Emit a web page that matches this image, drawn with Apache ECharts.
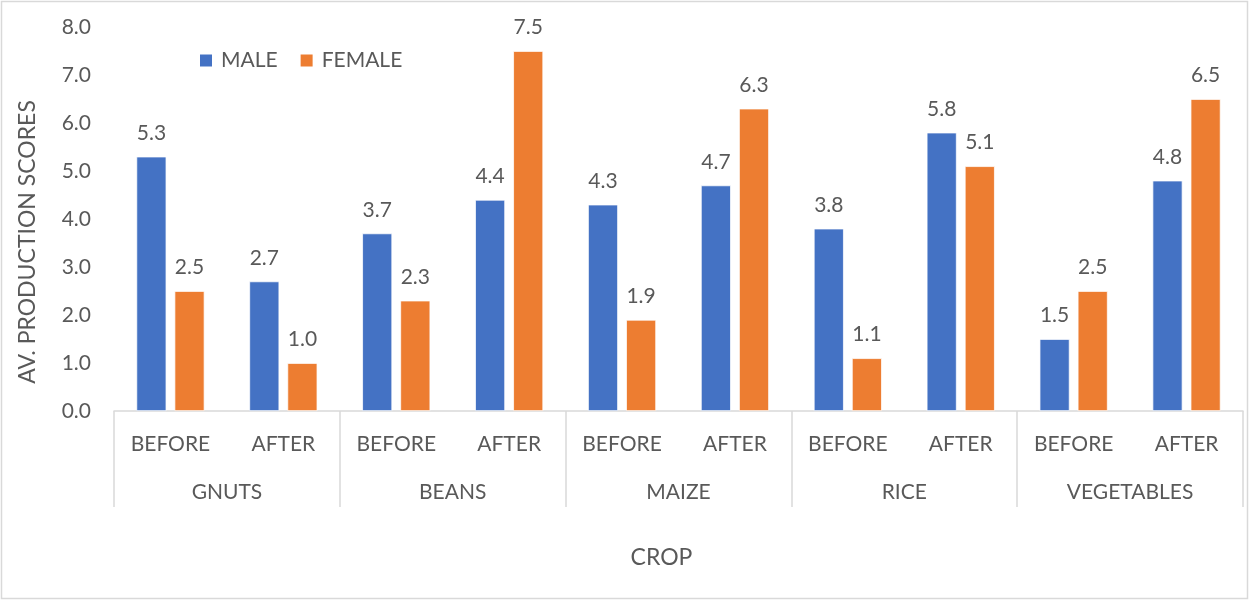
<!DOCTYPE html>
<html>
<head>
<meta charset="utf-8">
<script src="https://cdn.jsdelivr.net/npm/echarts@6/dist/echarts.min.js"></script>
<style>
  html, body { margin: 0; padding: 0; background: #ffffff; }
  #chart { width: 1250px; height: 601px; }
</style>
</head>
<body>
<div id="chart"></div>
<script>
// Average production scores by crop, before and after, split by gender
const crops = ['GNUTS', 'BEANS', 'MAIZE', 'RICE', 'VEGETABLES'];
const periods = ['BEFORE', 'AFTER'];
const periodLabels = ['BEFORE', 'AFTER', 'BEFORE', 'AFTER', 'BEFORE', 'AFTER', 'BEFORE', 'AFTER', 'BEFORE', 'AFTER'];
const maleScores = [5.3, 2.7, 3.7, 4.4, 4.3, 4.7, 3.8, 5.8, 1.5, 4.8];
const femaleScores = [2.5, 1.0, 2.3, 7.5, 1.9, 6.3, 1.1, 5.1, 2.5, 6.5];
const yTicks = [0, 1, 2, 3, 4, 5, 6, 7, 8];

const FONT = 'Lato';
const TEXT = '#595959';
const LINE = '#D9D9D9';
const FS = 21;       // tick, legend and value labels
const FS_TITLE = 23; // axis titles

const chart = echarts.init(document.getElementById('chart'), null, { renderer: 'canvas' });

const valueLabel = {
  show: true,
  position: 'top',
  distance: 13,
  color: TEXT,
  fontFamily: FONT,
  fontSize: FS,
  formatter: p => p.value.toFixed(1)
};

chart.setOption({
  animation: false,
  backgroundColor: '#ffffff',
  textStyle: { fontFamily: FONT },
  graphic: [{
    type: 'rect',
    shape: { x: 1.5, y: 1.5, width: 1246, height: 597 },
    style: { fill: 'none', stroke: LINE, lineWidth: 1.5 },
    silent: true,
    z: -1
  }],
  legend: {
    left: 198,
    top: 50,
    padding: 0,
    itemWidth: 14,
    itemHeight: 14,
    itemGap: 21,
    icon: 'rect',
    textStyle: { color: TEXT, fontFamily: FONT, fontSize: FS, padding: [0, 0, 0, 3] },
    data: ['MALE', 'FEMALE']
  },
  grid: { left: 114, right: 7, top: 27, bottom: 190, containLabel: false },
  xAxis: [
    {
      type: 'category',
      data: periodLabels,
      position: 'bottom',
      axisLine: { show: true, lineStyle: { color: LINE, width: 1.5 } },
      axisTick: { show: false },
      axisLabel: { color: TEXT, fontFamily: FONT, fontSize: FS, margin: 23, interval: 0 },
      splitLine: { show: false }
    },
    {
      type: 'category',
      data: crops,
      position: 'bottom',
      axisLine: { show: false },
      axisTick: { show: true, interval: 0, length: 96, lineStyle: { color: LINE, width: 1.5 } },
      axisLabel: { color: TEXT, fontFamily: FONT, fontSize: FS, margin: 71, interval: 0 },
      splitLine: { show: false },
      name: 'CROP',
      nameLocation: 'middle',
      nameGap: 135,
      nameTextStyle: { color: TEXT, fontFamily: FONT, fontSize: FS_TITLE, padding: [0, 34, 0, 0] }
    }
  ],
  yAxis: {
    type: 'value',
    min: 0,
    max: 8,
    interval: 1,
    axisLine: { show: false },
    axisTick: { show: false },
    splitLine: { show: false },
    axisLabel: {
      color: TEXT, fontFamily: FONT, fontSize: FS, margin: 23,
      formatter: v => v.toFixed(1)
    },
    name: 'AV. PRODUCTION SCORES',
    nameLocation: 'middle',
    nameRotate: 90,
    nameGap: 75,
    nameTextStyle: { color: TEXT, fontFamily: FONT, fontSize: FS_TITLE, padding: [0, 46, 0, 0] }
  },
  series: [
    {
      name: 'MALE',
      type: 'bar',
      xAxisIndex: 0,
      data: maleScores,
      barWidth: 30,
      barGap: '27%',
      itemStyle: { color: '#4472C4', borderColor: '#ffffff', borderWidth: 0.75 },
      label: valueLabel
    },
    {
      name: 'FEMALE',
      type: 'bar',
      xAxisIndex: 0,
      data: femaleScores,
      barWidth: 30,
      barGap: '27%',
      itemStyle: { color: '#ED7D31', borderColor: '#ffffff', borderWidth: 0.75 },
      label: valueLabel
    }
  ]
});
</script>
</body>
</html>
